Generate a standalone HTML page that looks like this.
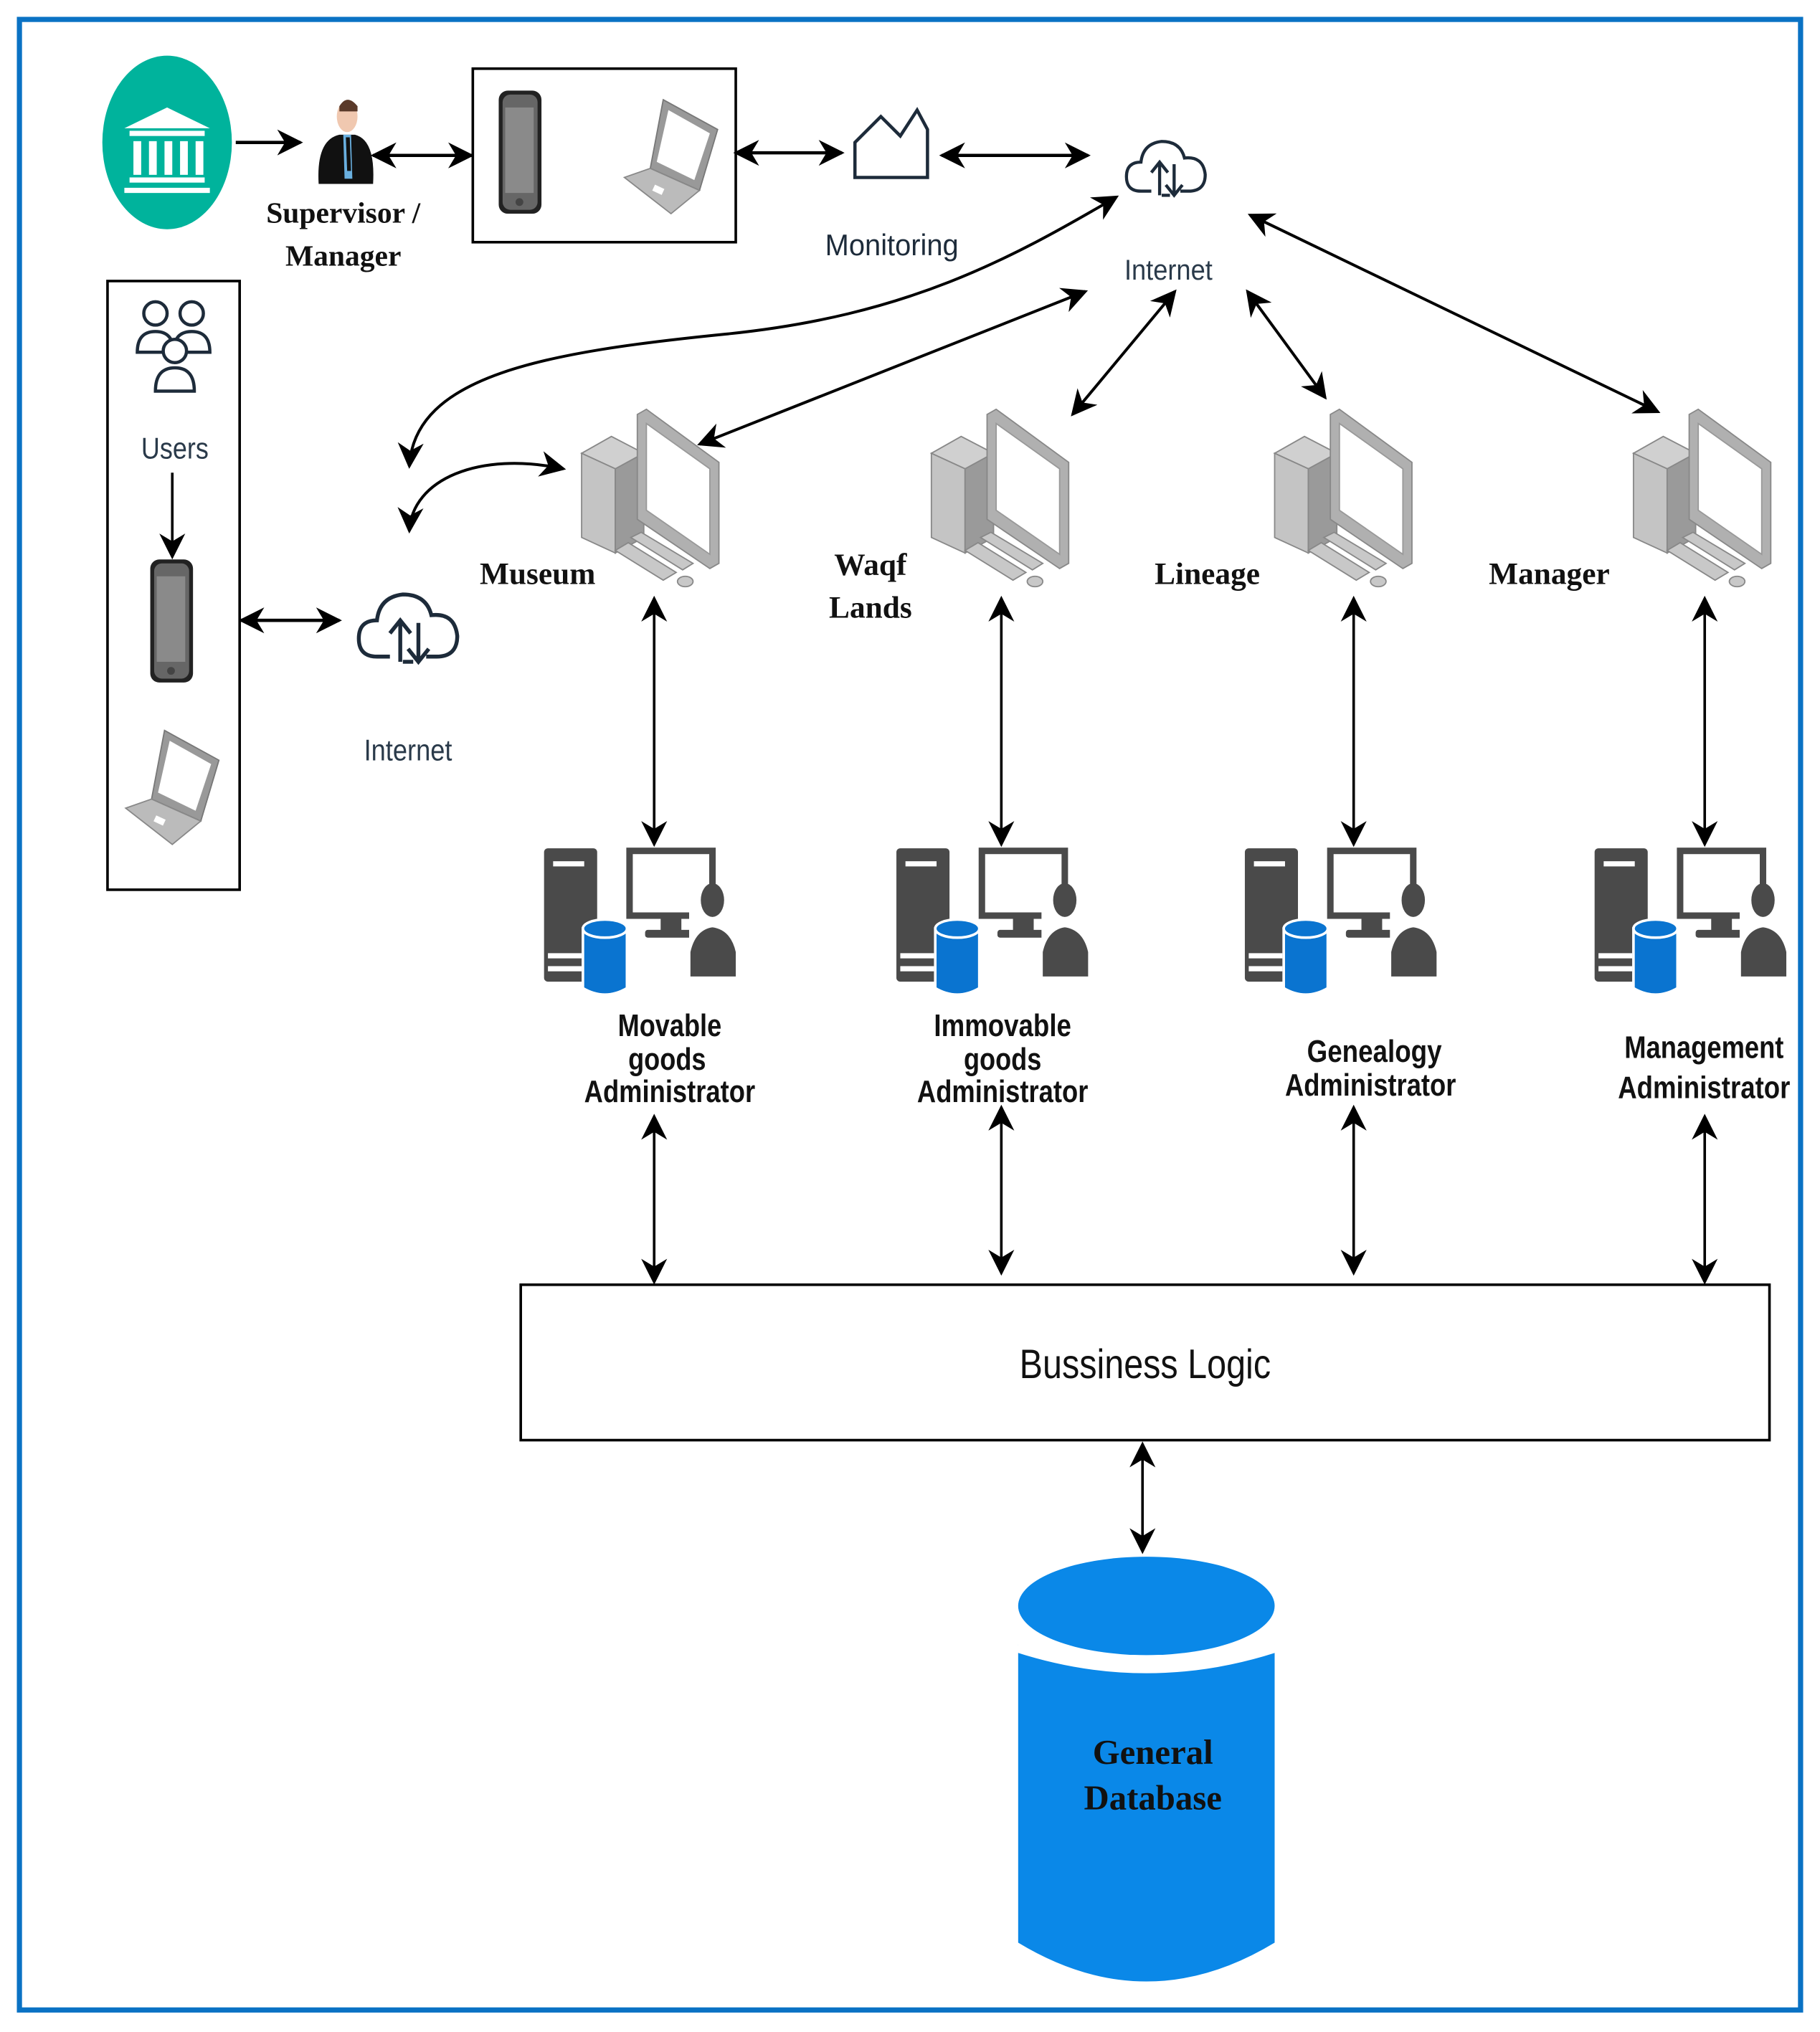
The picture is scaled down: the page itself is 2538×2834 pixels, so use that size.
<!DOCTYPE html>
<html><head><meta charset="utf-8"><style>
html,body{margin:0;padding:0;background:#fff;}
svg{display:block;}
.sb{font-family:"Liberation Serif",serif;font-weight:bold;fill:#111;}
.sn{font-family:"Liberation Sans",sans-serif;}
</style></head><body>
<svg width="2538" height="2834" viewBox="0 0 1405 1569" preserveAspectRatio="none" xmlns="http://www.w3.org/2000/svg">
<defs>
<marker id="b" viewBox="0 0 10 10" refX="9" refY="5" markerWidth="20" markerHeight="20" orient="auto-start-reverse" markerUnits="userSpaceOnUse"><path d="M0,0 L10,5 L0,10 L3,5 Z" fill="#000"/></marker>
<g id="pc">
<polygon points="2,35 25,22 50,35 28,47" fill="#d0d0d0" stroke="#888" stroke-width="1"/>
<polygon points="2,35 28,47 28,112 2,100" fill="#c4c4c4" stroke="#888" stroke-width="1"/>
<polygon points="28,47 50,35 50,100 28,112" fill="#9a9a9a" stroke="#888" stroke-width="1"/>
<polygon points="45,5 52,1 108,42 108,120 101,124 45,86" fill="#b0b0b0" stroke="#888" stroke-width="1"/>
<polygon points="52,12 101,47 101,113 52,79" fill="#fff" stroke="#999" stroke-width="1"/>
<polygon points="40,100 48,96 88,120 80,125" fill="#c8c8c8" stroke="#888" stroke-width="1"/>
<polygon points="28,110 38,104 75,127 65,133" fill="#c8c8c8" stroke="#888" stroke-width="1"/>
<ellipse cx="82" cy="134" rx="6" ry="4" fill="#c8c8c8" stroke="#888" stroke-width="1"/>
</g>
<g id="adm">
<rect x="0" y="0" width="41" height="103" rx="3" fill="#4a4a4a"/>
<rect x="7" y="10" width="24" height="4" fill="#fff"/>
<rect x="3" y="81" width="26" height="4" fill="#fff"/>
<rect x="3" y="91" width="26" height="4" fill="#fff"/>
<rect x="66" y="2" width="64" height="50" fill="none" stroke="#4a4a4a" stroke-width="5"/>
<rect x="90" y="52" width="16" height="14" fill="#4a4a4a"/>
<rect x="78" y="63" width="38" height="6" rx="2" fill="#4a4a4a"/>
<rect x="112" y="28" width="30" height="50" fill="#fff"/>
<ellipse cx="130" cy="40" rx="9" ry="13" fill="#4a4a4a"/>
<path d="M112,100 L112,80 Q116,62 130,60 Q145,62 149,80 L149,100 Z" fill="#4a4a4a" stroke="#fff" stroke-width="2"/>
<path d="M30,62 L30,108 Q47,118 64,108 L64,62 Z" fill="#0a74d0" stroke="#fff" stroke-width="2"/>
<ellipse cx="47" cy="62" rx="17" ry="7" fill="#0a74d0" stroke="#fff" stroke-width="2"/>
</g>
<g id="phone">
<rect x="0" y="0" width="33" height="95" rx="7" fill="#222"/>
<rect x="3" y="3" width="27" height="89" rx="6" fill="#666"/>
<rect x="5" y="13" width="22" height="66" fill="#8a8a8a"/>
<circle cx="16" cy="86" r="3" fill="#444"/>
</g>
<g id="lap">
<polygon points="30,2 72,25 58,72 20,55" fill="#999" stroke="#777"/>
<polygon points="34,10 66,28 54,64 25,50" fill="#fff"/>
<polygon points="0,62 20,55 58,72 36,90" fill="#bbb" stroke="#888"/>
<rect x="22" y="69" width="8" height="5" fill="#fff" transform="rotate(25 26 72)"/>
</g>
<g id="cloud" fill="none" stroke="#1d2b3a" stroke-width="3">
<path d="M-14,22 L-24,22 Q-38,22 -38,8 Q-38,-6 -24,-6 Q-22,-24 -4,-26 Q14,-26 18,-10 Q36,-12 38,6 Q38,22 22,22 L14,22"/>
<path d="M-6,26 L-6,-4 M-14,4 L-6,-6 L2,4"/>
<path d="M8,-4 L8,26 M0,16 L8,26 L16,16"/>
<path d="M-4,26 L4,26"/>
</g>
</defs>

<rect x="15" y="15" width="1375" height="1537" fill="none" stroke="#0a72c4" stroke-width="4"/>

<ellipse cx="129" cy="110" rx="50" ry="67" fill="#00b39c"/>
<g fill="#fff">
<polygon points="129,83 96,99 162,99"/>
<rect x="100" y="101" width="58" height="4"/>
<rect x="103" y="109" width="6" height="26"/><rect x="115" y="109" width="6" height="26"/><rect x="127" y="109" width="6" height="26"/><rect x="139" y="109" width="6" height="26"/><rect x="151" y="109" width="6" height="26"/>
<rect x="100" y="137" width="58" height="4"/>
<rect x="96" y="145" width="66" height="4"/>
</g>
<line x1="182" y1="110" x2="232" y2="110" stroke="#000" stroke-width="2.5" marker-end="url(#b)"/>
<ellipse cx="268" cy="90" rx="8" ry="12" fill="#f0c8b0"/>
<path d="M262,82 Q268,72 276,82 L276,86 L262,86 Z" fill="#5a3a2a"/>
<path d="M246,142 Q244,108 262,104 L274,104 Q290,108 288,142 Z" fill="#111"/>
<polygon points="265,104 271,104 272,138 266,138" fill="#6ab0e0"/>
<polygon points="267,106 270,106 271,132 268,132" fill="#111"/>
<text x="265" y="172" class="sb" font-size="23" text-anchor="middle">Supervisor /</text>
<text x="265" y="205" class="sb" font-size="23" text-anchor="middle">Manager</text>
<line x1="288" y1="120" x2="364" y2="120" stroke="#000" stroke-width="2.5" marker-start="url(#b)" marker-end="url(#b)"/>
<rect x="365" y="53" width="203" height="134" fill="none" stroke="#000" stroke-width="2"/>
<use href="#phone" x="385" y="70"/>
<use href="#lap" x="482" y="75"/>
<line x1="568" y1="118" x2="650" y2="118" stroke="#000" stroke-width="2.5" marker-start="url(#b)" marker-end="url(#b)"/>
<path d="M660,137 L660,110 L680,90 L695,105 L708,85 L716,100 L716,137 Z" fill="none" stroke="#1d2b3a" stroke-width="2.5"/>
<text x="637" y="197" class="sn" font-size="23" fill="#1d2b3a" textLength="103" lengthAdjust="spacingAndGlyphs">Monitoring</text>
<line x1="727" y1="120" x2="840" y2="120" stroke="#000" stroke-width="2.5" marker-start="url(#b)" marker-end="url(#b)"/>
<use href="#cloud" transform="translate(900,130) scale(0.8)"/>
<text x="868" y="216" class="sn" font-size="22" fill="#2a3a4a" textLength="68" lengthAdjust="spacingAndGlyphs">Internet</text>

<g fill="none" stroke="#000" stroke-width="2.2">
<path d="M316,360 C320,290 420,272 560,258 C700,244 780,200 862,152" marker-start="url(#b)" marker-end="url(#b)"/>
<path d="M316,410 C318,370 370,348 435,362" marker-start="url(#b)" marker-end="url(#b)"/>
<line x1="540" y1="343" x2="838" y2="225" marker-start="url(#b)" marker-end="url(#b)"/>
<line x1="828" y1="320" x2="907" y2="225" marker-start="url(#b)" marker-end="url(#b)"/>
<line x1="963" y1="225" x2="1023" y2="307" marker-start="url(#b)" marker-end="url(#b)"/>
<line x1="965" y1="166" x2="1280" y2="318" marker-start="url(#b)" marker-end="url(#b)"/>
</g>

<rect x="83" y="217" width="102" height="470" fill="none" stroke="#000" stroke-width="2"/>
<g stroke="#1d2b3a" stroke-width="2.5" fill="#fff">
<circle cx="120" cy="242" r="9"/><path d="M106,272 Q106,256 120,256 Q134,256 134,272 Z"/>
<circle cx="148" cy="242" r="9"/><path d="M134,272 L162,272 Q162,256 148,256 Q134,256 134,272 Z"/>
<path d="M120,302 Q120,284 135,284 Q150,284 150,302 Z"/>
<circle cx="135" cy="271" r="9"/>
</g>
<text x="109" y="354" class="sn" font-size="23" fill="#2a3a4a" textLength="52" lengthAdjust="spacingAndGlyphs">Users</text>
<line x1="133" y1="365" x2="133" y2="430" stroke="#000" stroke-width="2" marker-end="url(#b)"/>
<use href="#phone" x="116" y="432"/>
<use href="#lap" x="97" y="562"/>
<line x1="186" y1="479" x2="262" y2="479" stroke="#000" stroke-width="2.5" marker-start="url(#b)" marker-end="url(#b)"/>
<use href="#cloud" transform="translate(315,485)"/>
<text x="281" y="587" class="sn" font-size="23" fill="#2a3a4a" textLength="68" lengthAdjust="spacingAndGlyphs">Internet</text>

<use href="#pc" x="447" y="315"/>
<use href="#pc" x="717" y="315"/>
<use href="#pc" x="982" y="315"/>
<use href="#pc" x="1259" y="315"/>
<text x="415" y="451" class="sb" font-size="24" text-anchor="middle">Museum</text>
<text x="672" y="444" class="sb" font-size="24" text-anchor="middle">Waqf</text>
<text x="672" y="477" class="sb" font-size="24" text-anchor="middle">Lands</text>
<text x="932" y="451" class="sb" font-size="24" text-anchor="middle">Lineage</text>
<text x="1196" y="451" class="sb" font-size="24" text-anchor="middle">Manager</text>

<g stroke="#000" stroke-width="2">
<line x1="505" y1="462" x2="505" y2="652" marker-start="url(#b)" marker-end="url(#b)"/>
<line x1="773" y1="462" x2="773" y2="652" marker-start="url(#b)" marker-end="url(#b)"/>
<line x1="1045" y1="462" x2="1045" y2="652" marker-start="url(#b)" marker-end="url(#b)"/>
<line x1="1316" y1="462" x2="1316" y2="652" marker-start="url(#b)" marker-end="url(#b)"/>
<line x1="505" y1="862" x2="505" y2="990" marker-start="url(#b)" marker-end="url(#b)"/>
<line x1="773" y1="855" x2="773" y2="983" marker-start="url(#b)" marker-end="url(#b)"/>
<line x1="1045" y1="855" x2="1045" y2="983" marker-start="url(#b)" marker-end="url(#b)"/>
<line x1="1316" y1="862" x2="1316" y2="990" marker-start="url(#b)" marker-end="url(#b)"/>
<line x1="882" y1="1115" x2="882" y2="1198" marker-start="url(#b)" marker-end="url(#b)"/>
</g>

<use href="#adm" x="420" y="655"/>
<use href="#adm" x="692" y="655"/>
<use href="#adm" x="961" y="655"/>
<use href="#adm" x="1231" y="655"/>

<g class="sn" font-size="24" font-weight="bold" fill="#111" lengthAdjust="spacingAndGlyphs">
<text x="477" y="800" textLength="80" lengthAdjust="spacingAndGlyphs">Movable</text>
<text x="485" y="826" textLength="60" lengthAdjust="spacingAndGlyphs">goods</text>
<text x="451" y="851" textLength="132" lengthAdjust="spacingAndGlyphs">Administrator</text>
<text x="721" y="800" textLength="106" lengthAdjust="spacingAndGlyphs">Immovable</text>
<text x="744" y="826" textLength="60" lengthAdjust="spacingAndGlyphs">goods</text>
<text x="708" y="851" textLength="132" lengthAdjust="spacingAndGlyphs">Administrator</text>
<text x="1009" y="820" textLength="104" lengthAdjust="spacingAndGlyphs">Genealogy</text>
<text x="992" y="846" textLength="132" lengthAdjust="spacingAndGlyphs">Administrator</text>
<text x="1254" y="817" textLength="123" lengthAdjust="spacingAndGlyphs">Management</text>
<text x="1249" y="848" textLength="133" lengthAdjust="spacingAndGlyphs">Administrator</text>
</g>

<rect x="402" y="992" width="964" height="120" fill="#fff" stroke="#000" stroke-width="2"/>
<text x="787" y="1064" class="sn" font-size="32" fill="#111" textLength="194" lengthAdjust="spacingAndGlyphs">Bussiness Logic</text>

<path d="M786,1270 Q885,1300 984,1270 L984,1500 Q885,1560 786,1500 Z" fill="#0a88e8"/>
<path d="M786,1270 Q885,1302 984,1270" fill="none" stroke="#fff" stroke-width="12"/>
<ellipse cx="885" cy="1240" rx="99" ry="38" fill="#0a88e8"/>
<text x="890" y="1362" class="sb" font-size="27" text-anchor="middle">General</text>
<text x="890" y="1397" class="sb" font-size="27" text-anchor="middle">Database</text>
</svg>
</body></html>
